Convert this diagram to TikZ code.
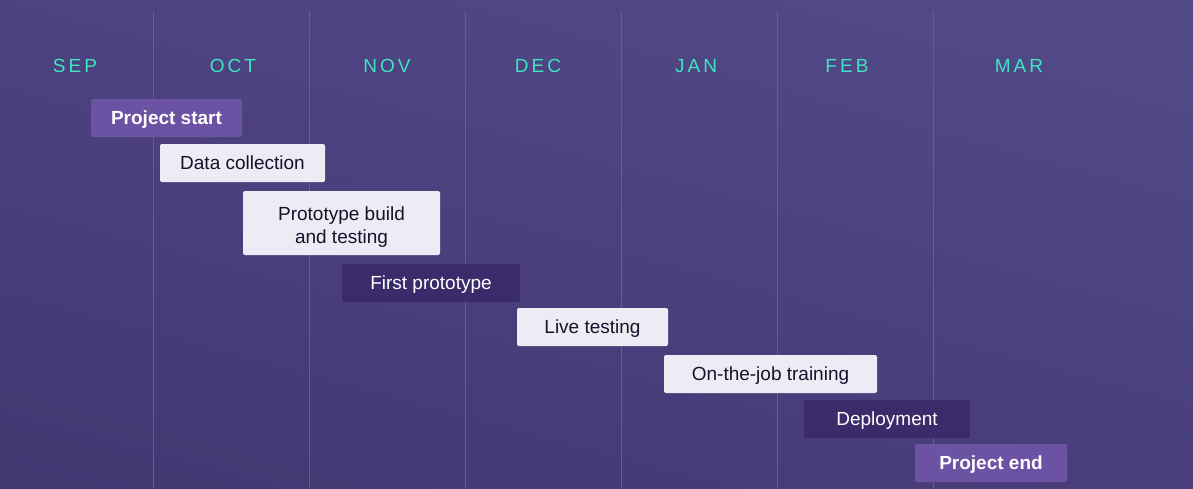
\documentclass[tikz,border=0pt]{standalone}
\usepackage{fontspec}
\setmainfont{Liberation Sans}
\newfontfamily\monthfont[LetterSpace=16]{Liberation Sans}
\definecolor{bgtop}{HTML}{534A89}
\definecolor{bgbot}{HTML}{433772}
\definecolor{gridline}{HTML}{6859A8}
\definecolor{monthcol}{HTML}{40E4C3}
\definecolor{milestone}{HTML}{6B52A3}
\definecolor{taskfill}{HTML}{EEEBF5}
\definecolor{taskink}{HTML}{16122B}
\definecolor{darkfill}{HTML}{3A2C6A}
\begin{document}
\begin{tikzpicture}[x=1pt,y=-1pt,
  month/.style={text=monthcol,font=\monthfont\fontsize{19}{22}\selectfont,inner sep=0pt,
    text height=13.6pt,text depth=0pt},
  bar/.style={rounded corners=2pt,inner sep=0pt,minimum height=38pt,align=center,
    font=\fontsize{19}{23}\selectfont,text height=12.6pt,text depth=0pt},
  task/.style={bar,fill=taskfill,text=taskink},
  phase/.style={bar,fill=darkfill,text=white},
  milestonebox/.style={bar,fill=milestone,text=white,font=\bfseries\fontsize{19}{23}\selectfont},
  grid/.style={draw=gridline,line width=1pt}]
  % background
  \useasboundingbox (0,0) rectangle (1193,488);
  \shade[top color=bgtop,bottom color=bgbot,shading angle=-15] (-60,-60) rectangle (1253,548);
  % month separators
  \foreach \i in {0,...,5}{
    \draw[grid] (153.5+156*\i,11) -- (153.5+156*\i,488);
  }
  % month headings
  \node[month] (sep) at (75,66) {SEP};
  \node[month] (oct) at (233,66) {OCT};
  \node[month] (nov) at (387,66) {NOV};
  \node[month] (dec) at (538,66) {DEC};
  \node[month] (jan) at (696,66) {JAN};
  \node[month] (feb) at (847,66) {FEB};
  \node[month] (mar) at (1019,66) {MAR};
  % schedule bars
  \node[milestonebox,minimum width=151pt] (start) at (166.5,118) {Project start};
  \node[task,minimum width=165pt] (data) at (242.5,163) {Data collection};
  \node[task,minimum width=197pt,minimum height=64pt,text height=40pt,text depth=0pt] (proto) at (341.5,223) {Prototype build\\and testing};
  \node[phase,minimum width=178pt] (first) at (431,283) {First prototype};
  \node[task,minimum width=151pt] (live) at (592.5,327) {Live testing};
  \node[task,minimum width=213pt] (ojt) at (770.5,374) {On-the-job training};
  \node[phase,minimum width=166pt] (deploy) at (887,419) {Deployment};
  \node[milestonebox,minimum width=152pt] (end) at (991,463) {Project end};
\end{tikzpicture}
\end{document}
